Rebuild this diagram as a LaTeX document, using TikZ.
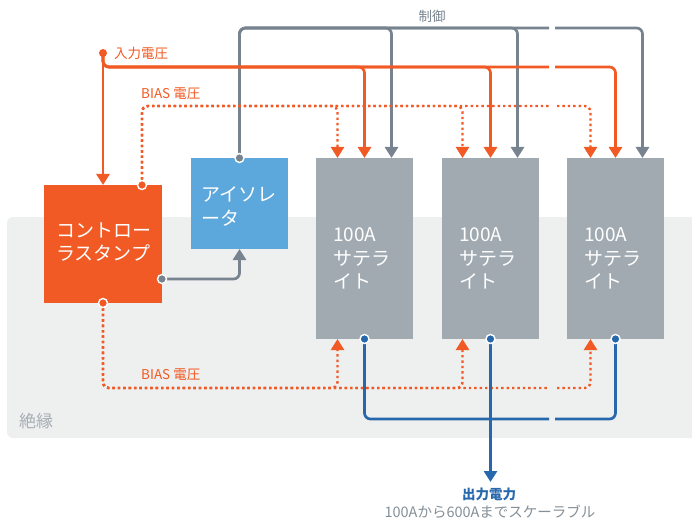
\documentclass[tikz,border=0pt]{standalone}
\usepackage{fontspec}
\setmainfont{Noto Sans CJK JP}
\usetikzlibrary{arrows.meta,calc}
\definecolor{orng}{HTML}{F15A24}
\definecolor{isoblue}{HTML}{5CA7DB}
\definecolor{satgray}{HTML}{A1AAB1}
\definecolor{ctlgray}{HTML}{77838F}
\definecolor{outblue}{HTML}{2767AC}
\definecolor{insbg}{HTML}{EEEFEF}
\definecolor{lblgray}{HTML}{858F97}
\definecolor{insgray}{HTML}{A7AFB5}
\begin{document}
\begin{tikzpicture}[x=1pt,y=-1pt,
  box/.style={draw=none, inner sep=0pt, outer sep=0pt},
  boxtxt/.style={text=white, inner sep=0pt, anchor=west, align=left, font=\fontsize{19}{23.5}\selectfont},
  ln/.style={line width=2.7pt, rounded corners=6pt},
  ctl/.style={ln, draw=ctlgray},
  inp/.style={ln, draw=orng},
  outp/.style={ln, draw=outblue},
  bias/.style={line width=2.4pt, draw=orng, dash pattern=on 2.4pt off 3pt, rounded corners=6pt},
  tip/.style={-{Triangle[width=13pt,length=11pt]}},
  dotw/.style={circle, inner sep=0pt, minimum size=9pt, draw=white, line width=1.4pt},
  lbl/.style={inner sep=0pt, font=\fontsize{13.5}{16}\selectfont}
]
\useasboundingbox (0,0) rectangle (692,521);
% insulation area
\fill[insbg, rounded corners=6pt] (7,217) rectangle (705,438);
\node[inner sep=0pt, anchor=west, text=insgray, font=\fontsize{17}{20}\selectfont] (ins) at (19,421) {絶縁};

% boxes
\node[box, fill=orng, minimum width=118pt, minimum height=118pt] (ctrl) at (103,244) {};
\node[box, fill=isoblue, minimum width=97pt, minimum height=91pt] (iso) at (239.5,203.5) {};
\node[box, fill=satgray, minimum width=97pt, minimum height=181pt] (sat1) at (364.5,248.5) {};
\node[box, fill=satgray, minimum width=97pt, minimum height=181pt] (sat2) at (490.5,248.5) {};
\node[box, fill=satgray, minimum width=97pt, minimum height=181pt] (sat3) at (615.5,248.5) {};

\node[boxtxt] (ctrlT) at ($(ctrl.west)+(12,-2)$) {コントロー\\ラスタンプ};
\node[boxtxt] (isoT) at ($(iso.west)+(10,3)$) {アイソレ\\ータ};
\node[boxtxt] (sat1T) at ($(sat1.west)+(17,10)$) {100A\\サテラ\\イト};
\node[boxtxt] (sat2T) at ($(sat2.west)+(17,10)$) {100A\\サテラ\\イト};
\node[boxtxt] (sat3T) at ($(sat3.west)+(17,10)$) {100A\\サテラ\\イト};

% helper coordinates
\coordinate (yC) at (0,28);
\coordinate (yI) at (0,67);
\coordinate (yB) at (0,106);
\coordinate (yL) at (0,388);
\coordinate (yO) at (0,419);
\coordinate (yE) at (0,279);
\coordinate (yA) at (0,482);
\coordinate (gapL) at (549,0);
\coordinate (gapR) at (555,0);
\coordinate (gapRb) at (557,0);
\coordinate (inDot) at (103,53);
\coordinate (bT) at ($(ctrl.north)+(39,0)$);
\coordinate (c1) at ($(sat1.north)+(27,0)$);
\coordinate (c2) at ($(sat2.north)+(27,0)$);
\coordinate (c3) at ($(sat3.north)+(27,0)$);
\coordinate (b1) at ($(sat1.north)+(-27,0)$);
\coordinate (b2) at ($(sat2.north)+(-28,0)$);
\coordinate (b3) at ($(sat3.north)+(-25,0)$);

% control bus
\draw[ctl,tip] (iso.north) -- (iso.north |- yC) -- (c1 |- yC) -- (c1);
\draw[ctl,tip] (iso.north) -- (iso.north |- yC) -- (c2 |- yC) -- (c2);
\draw[ctl] (iso.north) -- (iso.north |- yC) -- (gapL |- yC);
\draw[ctl,tip] (gapR |- yC) -- (c3 |- yC) -- (c3);

% input voltage
\draw[inp,tip] (inDot) -- (ctrl.north);
\draw[inp,tip] (inDot) -- (inDot |- yI) -- (sat1.north |- yI) -- (sat1.north);
\draw[inp,tip] (inDot) -- (inDot |- yI) -- (sat2.north |- yI) -- (sat2.north);
\draw[inp] (inDot) -- (inDot |- yI) -- (gapL |- yI);
\draw[inp,tip] (gapR |- yI) -- (sat3.north |- yI) -- (sat3.north);

% bias upper
\draw[bias,tip] (bT) -- (bT |- yB) -- (b1 |- yB) -- (b1);
\draw[bias,tip] (bT) -- (bT |- yB) -- (b2 |- yB) -- (b2);
\draw[bias] (bT) -- (bT |- yB) -- (gapL |- yB);
\draw[bias,tip] (gapRb |- yB) -- (b3 |- yB) -- (b3);

% bias lower
\draw[bias,tip] (ctrl.south) -- (ctrl.south |- yL) -- (b1 |- yL) -- (b1 |- sat1.south);
\draw[bias,tip] (ctrl.south) -- (ctrl.south |- yL) -- (b2 |- yL) -- (b2 |- sat2.south);
\draw[bias] (ctrl.south) -- (ctrl.south |- yL) -- (gapL |- yL);
\draw[bias,tip] (gapRb |- yL) -- (b3 |- yL) -- (b3 |- sat3.south);

% controller to isolator
\draw[ctl,tip] (ctrl.east |- yE) -- (iso.south |- yE) -- (iso.south);

% output
\draw[outp] (sat1.south) -- (sat1.south |- yO) -- (gapL |- yO);
\draw[outp] (sat3.south) -- (sat3.south |- yO) -- (gapR |- yO);
\draw[outp,tip] (sat2.south) -- (sat2.south |- yA);

% dots
\node[circle, inner sep=0pt, minimum size=8pt, fill=orng] (inD) at (inDot) {};
\node[dotw, fill=orng] (bTd) at (bT) {};
\node[dotw, fill=orng] (bBd) at (ctrl.south) {};
\node[dotw, fill=ctlgray] (isoD) at (iso.north) {};
\node[dotw, fill=ctlgray] (ctrlD) at (ctrl.east |- yE) {};
\node[dotw, fill=outblue] (o1) at (sat1.south) {};
\node[dotw, fill=outblue] (o2) at (sat2.south) {};
\node[dotw, fill=outblue] (o3) at (sat3.south) {};

% labels
\node[lbl, text=ctlgray] (lblC) at (432,16) {制御};
\node[lbl, text=orng, anchor=west] (lblI) at (114,53) {入力電圧};
\node[lbl, text=orng, anchor=west] (lblB1) at (141,94) {BIAS 電圧};
\node[lbl, text=orng, anchor=west] (lblB2) at (141,375) {BIAS 電圧};
\node[inner sep=0pt, text=outblue, font=\bfseries\fontsize{13.5}{16}\selectfont] (outT) at (489,494) {出力電力};
\node[inner sep=0pt, text=lblgray, font=\fontsize{14.5}{17}\selectfont] (outS) at (490,512) {100Aから600Aまでスケーラブル};
\end{tikzpicture}
\end{document}
